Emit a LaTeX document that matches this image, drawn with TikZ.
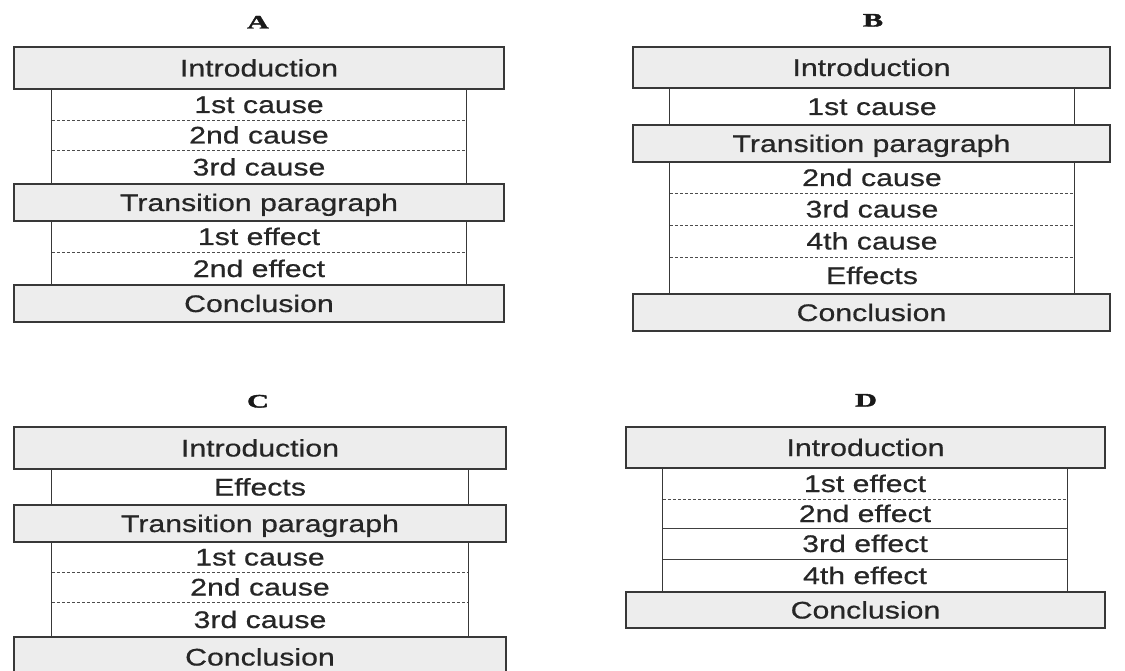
\documentclass[tikz,border=0pt]{standalone}
\usepackage{fontspec}
\setmainfont{Liberation Sans}[FakeStretch=1.26, FakeBold=0.6]
\newfontfamily\titlefont{Liberation Serif}[FakeStretch=1.6, FakeBold=2]
\begin{document}
\begin{tikzpicture}[x=1pt,y=-1pt,
  every node/.style={inner sep=0pt, text=black!85, font=\fontsize{24}{24}\selectfont, text height=17pt, text depth=0pt},
  wide/.style={draw=black!78, line width=1.3pt, fill=black!7, minimum width=#1},
  row/.style={minimum width=#1},
  side/.style={draw=black!78, line width=1.3pt},
  div/.style={draw=black!70, line width=0.9pt, densely dashed},
  sdiv/.style={draw=black!75, line width=1pt},
  ttl/.style={font=\titlefont\bfseries\fontsize{19}{19}\selectfont, text=black!90, text height=13pt}]
\clip (0,0) rectangle (1125,671);
\fill[white] (0,0) rectangle (1125,671);

% ---------- A ----------
\node[ttl] (tA) at (258,22) {A};
\node[row=414, minimum height=31] (ar1) at (259,104.5) {1st cause};
\node[row=414, minimum height=30] (ar2) at (259,135) {2nd cause};
\node[row=414, minimum height=34] (ar3) at (259,167) {3rd cause};
\node[row=414, minimum height=31] (ae1) at (259,236.5) {1st effect};
\node[row=414, minimum height=33] (ae2) at (259,268.5) {2nd effect};
\draw[side] (ar1.north west) -- (ar3.south west);
\draw[side] (ar1.north east) -- (ar3.south east);
\draw[side] (ae1.north west) -- (ae2.south west);
\draw[side] (ae1.north east) -- (ae2.south east);
\draw[div] (ar1.south west) -- (ar1.south east);
\draw[div] (ar2.south west) -- (ar2.south east);
\draw[div] (ae1.south west) -- (ae1.south east);
\node[wide=490, minimum height=42] (aI) at (259,68) {Introduction};
\node[wide=490, minimum height=37] (aT) at (259,202.5) {Transition paragraph};
\node[wide=490, minimum height=37] (aC) at (259,303.5) {Conclusion};

% ---------- B ----------
\node[ttl] (tB) at (873,20) {B};
\node[row=404, minimum height=37] (br1) at (872,106.5) {1st cause};
\node[row=404, minimum height=31] (br2) at (872,177.5) {2nd cause};
\node[row=404, minimum height=32] (br3) at (872,209) {3rd cause};
\node[row=404, minimum height=32] (br4) at (872,241) {4th cause};
\node[row=404, minimum height=37] (bef) at (872,275.5) {Effects};
\draw[side] (br1.north west) -- (br1.south west);
\draw[side] (br1.north east) -- (br1.south east);
\draw[side] (br2.north west) -- (bef.south west);
\draw[side] (br2.north east) -- (bef.south east);
\draw[div] (br2.south west) -- (br2.south east);
\draw[div] (br3.south west) -- (br3.south east);
\draw[div] (br4.south west) -- (br4.south east);
\node[wide=477, minimum height=41] (bI) at (871.5,67.5) {Introduction};
\node[wide=477, minimum height=37] (bT) at (871.5,143.5) {Transition paragraph};
\node[wide=477, minimum height=37] (bC) at (871.5,312.5) {Conclusion};

% ---------- C ----------
\node[ttl] (tC) at (258,401) {C};
\node[row=416, minimum height=36] (cef) at (260,487) {Effects};
\node[row=416, minimum height=30] (cr1) at (260,557) {1st cause};
\node[row=416, minimum height=30] (cr2) at (260,587) {2nd cause};
\node[row=416, minimum height=35] (cr3) at (260,619.5) {3rd cause};
\draw[side] (cef.north west) -- (cef.south west);
\draw[side] (cef.north east) -- (cef.south east);
\draw[side] (cr1.north west) -- (cr3.south west);
\draw[side] (cr1.north east) -- (cr3.south east);
\draw[div] (cr1.south west) -- (cr1.south east);
\draw[div] (cr2.south west) -- (cr2.south east);
\node[wide=492, minimum height=42] (cI) at (260,448) {Introduction};
\node[wide=492, minimum height=37] (cT) at (260,523.5) {Transition paragraph};
\node[wide=492, minimum height=40] (cC) at (260,657) {Conclusion};

% ---------- D ----------
\node[ttl] (tD) at (866,400) {D};
\node[row=404, minimum height=31] (de1) at (865,483.5) {1st effect};
\node[row=404, minimum height=29] (de2) at (865,513.5) {2nd effect};
\node[row=404, minimum height=31] (de3) at (865,543.5) {3rd effect};
\node[row=404, minimum height=33] (de4) at (865,575.5) {4th effect};
\draw[side] (de1.north west) -- (de4.south west);
\draw[side] (de1.north east) -- (de4.south east);
\draw[div] (de1.south west) -- (de1.south east);
\draw[sdiv] (de2.south west) -- (de2.south east);
\draw[sdiv] (de3.south west) -- (de3.south east);
\node[wide=479, minimum height=41] (dI) at (865.5,447.5) {Introduction};
\node[wide=479, minimum height=36] (dC) at (865.5,610) {Conclusion};
\end{tikzpicture}
\end{document}
